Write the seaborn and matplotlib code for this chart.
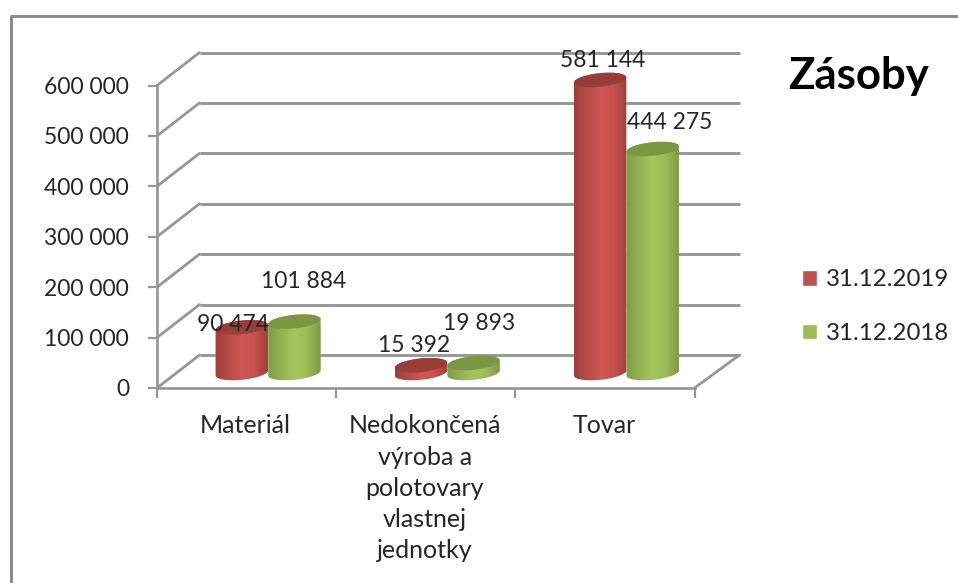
import numpy as np
import pandas as pd
import matplotlib
matplotlib.use("Agg")
import matplotlib.pyplot as plt
import seaborn as sns
from matplotlib.lines import Line2D
from matplotlib.patches import Ellipse, Patch
from matplotlib.path import Path
from matplotlib.transforms import Affine2D, IdentityTransform

# Zasoby - hodnoty odcitane z grafu
kategorie = ["Materiál", "Nedokončená\nvýroba a\npolotovary\nvlastnej\njednotky", "Tovar"]
obdobia = ["31.12.2019", "31.12.2018"]
hodnoty_2019 = [90474, 15392, 581144]
hodnoty_2018 = [101884, 19893, 444275]
y_ticky = [0, 100000, 200000, 300000, 400000, 500000, 600000]

W, H = 958, 583
farby = ["#c0504d", "#9bbb59"]
farby_vrch = ["#973e3b", "#7b9744"]
gradient = [["#9c3f3c", "#b84c49", "#d05654", "#c8524f", "#a13f3c"],
            ["#7f9c47", "#95b356", "#a5c55d", "#9cbc58", "#7d9a45"]]

sns.set_theme(style="white")
plt.rcParams["font.family"] = ["Lato", "DejaVu Sans"]
SIVA = "#969696"
TEXT = "#262626"
FS = 16.5


def tisice(v):
    return f"{v:,}".replace(",", " ")


def rect_px(x, y, w, h):
    return [x / W, 1 - (y + h) / H, w / W, h / H]


df = pd.DataFrame({
    "kategoria": kategorie * 2,
    "hodnota": hodnoty_2019 + hodnoty_2018,
    "obdobie": [obdobia[0]] * 3 + [obdobia[1]] * 3,
})

fig = plt.figure(figsize=(W / 100, H / 100), dpi=100, facecolor="white")

# predna rovina s osami
ax = fig.add_axes(rect_px(157, 85.5, 537.5, 302.5))
ax.set_xlim(-0.5, 2.5)
ax.set_ylim(0, 600000)
ax.patch.set_visible(False)
sns.despine(ax=ax)
for s in ["left", "bottom"]:
    ax.spines[s].set_color(SIVA)
    ax.spines[s].set_linewidth(1.9)
ax.set_yticks(y_ticky)
ax.set_yticklabels([tisice(v) for v in y_ticky], fontsize=FS, color=TEXT)
ax.set_xticks([-0.5, 0.5, 1.5, 2.5])
ax.set_xticklabels([])
ax.set_xticks([-0.005, 0.995, 1.995], kategorie, minor=True, fontsize=18, color=TEXT, linespacing=1.43)
ax.tick_params(axis="y", left=True, length=6.5, width=1.6, color=SIVA, pad=13.5)
ax.tick_params(axis="x", which="major", bottom=True, length=7, width=1.6, color=SIVA)
ax.tick_params(axis="x", which="minor", bottom=False, length=0, pad=19)

# zadna stena a bocne ciary
hlbka = (42.5, 33.0)
posun = ax.transData + Affine2D().translate(*hlbka)
ax.hlines(y_ticky, -0.5, 2.515, color=SIVA, lw=2.1, transform=posun, clip_on=False, zorder=1)
for v in y_ticky:
    x0, y0 = ax.transData.transform((-0.5, v))
    ax.add_line(Line2D([x0, x0 + hlbka[0]], [y0, y0 + hlbka[1]], color=SIVA, lw=2,
                       transform=IdentityTransform(), clip_on=False))
x0, y0 = ax.transData.transform((2.5, 0))
ax.add_line(Line2D([x0, x0 + hlbka[0] + 2.5], [y0, y0 + hlbka[1]], color=SIVA, lw=2,
                   transform=IdentityTransform(), clip_on=False))
ax.set_xlim(-0.5, 2.5)
ax.set_ylim(0, 600000)

# valce - stlpce su posunute do stredu hlbky grafu
ax2 = fig.add_axes(rect_px(178.5, 70.5, 537.5, 302.5))
ax2.patch.set_visible(False)
sns.barplot(data=df, x="kategoria", y="hodnota", hue="obdobie", hue_order=obdobia,
            palette=farby, saturation=1, width=0.587, gap=0, legend=False, ax=ax2)
ax2.set_xlim(-0.5, 2.5)
ax2.set_ylim(0, 600000)
ax2.axis("off")

TILT = np.deg2rad(6)
B = 6.8


def oblúk(cx, cy, a, t0, t1):
    t = np.linspace(t0, t1, 40)
    return np.column_stack([
        cx + a * np.cos(t) * np.cos(TILT) - B * np.sin(t) * np.sin(TILT),
        cy + a * np.cos(t) * np.sin(TILT) + B * np.sin(t) * np.cos(TILT),
    ])


# posuny popiskov od vrchu valca, v pixeloch
popisky_dx = [[-9, -7, 3], [9, 6, 17]]
popisky_dy = [[3, 20, 20], [40, 39, 27]]

for i, kont in enumerate(ax2.containers):
    for j, bar in enumerate(kont):
        x0, x1 = bar.get_x(), bar.get_x() + bar.get_width()
        v = bar.get_height()
        (px0, py0), (px1, py1) = ax2.transData.transform([(x0, 0), (x1, v)])
        cx, a = (px0 + px1) / 2, (px1 - px0) / 2
        obrys = np.vstack([oblúk(cx, py0, a, np.pi, 2 * np.pi), oblúk(cx, py1, a, 0, np.pi)])
        cesta = Path(np.vstack([obrys, obrys[:1]]), closed=True)
        bar.set_clip_box(fig.bbox)
        bar.set_clip_path(cesta, IdentityTransform())

        rgb = np.array([matplotlib.colors.to_rgb(c) for c in gradient[i]])
        pos = np.linspace(0, 1, 64)
        img = np.stack([np.interp(pos, np.linspace(0, 1, 5), rgb[:, k]) for k in range(3)], axis=1)
        dolu = (B + 4) / (ax2.transData.transform((0, 1000))[1] - ax2.transData.transform((0, 0))[1]) * 1000
        hore = v + dolu
        im = ax2.imshow(img[np.newaxis, :, :], extent=(x0, x1, -dolu, hore), aspect="auto",
                        zorder=3, interpolation="bilinear")
        im.set_clip_box(fig.bbox)
        im.set_clip_path(cesta, IdentityTransform())

        ax2.add_patch(Ellipse((cx, py1), 2 * a, 2 * B, angle=np.rad2deg(TILT), facecolor=farby_vrch[i],
                              edgecolor="none", transform=IdentityTransform(), clip_on=False, zorder=4))
        ax2.annotate(tisice(int(v)), xy=(cx, py1), xycoords=IdentityTransform(),
                     xytext=(popisky_dx[i][j] * 0.72, popisky_dy[i][j] * 0.72), textcoords="offset points",
                     ha="center", va="center", fontsize=FS, color=TEXT, zorder=6, annotation_clip=False)
ax2.set_xlim(-0.5, 2.5)
ax2.set_ylim(0, 600000)

# nazov, legenda, ramik
fig.text(859 / W, 1 - 76 / H, "Zásoby", fontsize=31.5, fontweight="bold", color="black",
         ha="center", va="center")
fig.legend(handles=[Patch(facecolor=farby[0], label=obdobia[0]), Patch(facecolor=farby[1], label=obdobia[1])],
           loc="upper left", bbox_to_anchor=(795 / W, 1 - 262 / H), frameon=False, fontsize=17.3,
           labelcolor=TEXT, handlelength=0.62, handleheight=0.62, handletextpad=0.35, labelspacing=1.36,
           borderaxespad=0, borderpad=0.3)
fig.add_artist(Line2D([11 / W, 11 / W, 1], [0, 1 - 15.5 / H, 1 - 15.5 / H], color="#8c8c8c", lw=2.2,
                      transform=fig.transFigure))

fig.savefig("out.png", dpi=100)
